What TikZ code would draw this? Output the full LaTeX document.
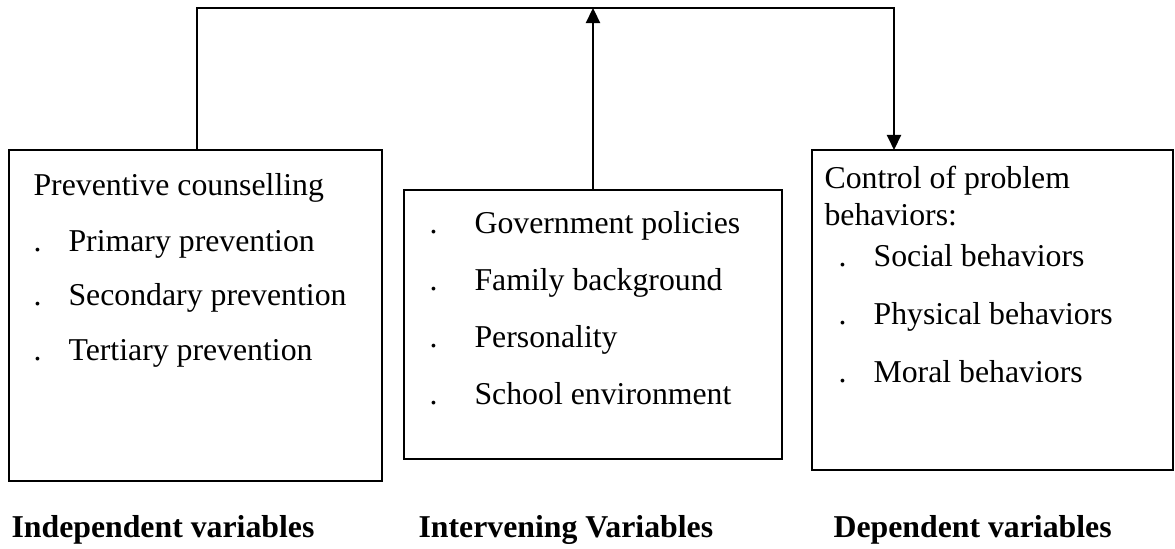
\documentclass[tikz,border=0pt]{standalone}
\usepackage{fontspec}
\setmainfont{Liberation Serif}
\usetikzlibrary{arrows.meta}
\begin{document}
\begin{tikzpicture}[x=0.0125cm, y=-0.0125cm,
    box/.style={draw, line width=0.75pt, inner sep=0pt, outer sep=0pt},
    txt/.style={anchor=base west, inner sep=0pt, font=\fontsize{11.3}{13}\selectfont},
    head/.style={anchor=base west, inner sep=0pt, font=\fontsize{11.3}{13}\selectfont\bfseries},
    wire/.style={line width=0.5pt},
    arr/.style={-{Triangle[length=0.19cm, width=0.18cm]}}]
    \useasboundingbox (0,0) rectangle (1175,548);
    % the three blocks
    \node[box, minimum width=4.6625cm, minimum height=4.1375cm] (indep)  at (195.5,315.5) {};
    \node[box, minimum width=4.725cm,  minimum height=3.3625cm] (interv) at (593,324.5)   {};
    \node[box, minimum width=4.5125cm, minimum height=4.0cm]    (dep)    at (992.5,310)   {};
    % feedback line over the top
    \coordinate (tl) at (197,8);
    \coordinate (tr) at (894,8);
    \draw[wire, arr] (indep.north -| tl) -- (tl) -- (tr) -- (dep.north -| tr);
    \draw[wire, arr] (interv.north) -- (interv.north |- tl);
    % independent variables
    \node[txt] (prev) at (33,195) {Preventive counselling};
    \foreach \t [count=\i] in {Primary prevention, Secondary prevention, Tertiary prevention} {
        \node[txt] (indot\i) at (33,{251+(\i-1)*54.5}) {.};
        \node[txt] (initem\i) at (68,{251+(\i-1)*54.5}) {\t};
    }
    % intervening variables
    \foreach \t [count=\i] in {Government policies, Family background, Personality, School environment} {
        \node[txt] (mdot\i) at (429,{233+(\i-1)*57.3}) {.};
        \node[txt] (mitem\i) at (474,{233+(\i-1)*57.3}) {\t};
    }
    % dependent variables
    \node[txt] (ctrl) at (824,188) {Control of problem};
    \node[txt] (beh) at (824,225) {behaviors:};
    \foreach \t [count=\i] in {Social behaviors, Physical behaviors, Moral behaviors} {
        \node[txt] (ddot\i) at (838,{266+(\i-1)*58}) {.};
        \node[txt] (ditem\i) at (873,{266+(\i-1)*58}) {\t};
    }
    % captions
    \node[head] (capi) at (11,537)  {Independent variables};
    \node[head] (capm) at (418,537) {Intervening Variables};
    \node[head] (capd) at (833,537) {Dependent variables};
\end{tikzpicture}
\end{document}
